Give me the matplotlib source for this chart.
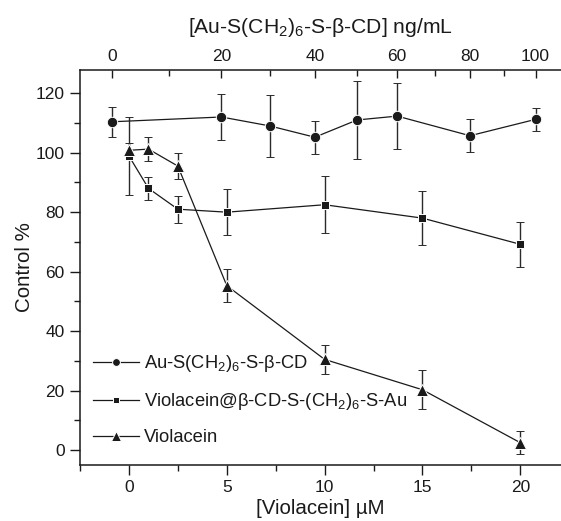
import numpy as np
import matplotlib
matplotlib.use("Agg")
import matplotlib.pyplot as plt
from matplotlib.ticker import MultipleLocator, FixedLocator

plt.rcParams['font.family'] = ['Liberation Sans', 'DejaVu Sans']
plt.rcParams['mathtext.fontset'] = 'custom'
plt.rcParams['mathtext.rm'] = 'Liberation Sans'
plt.rcParams['mathtext.it'] = 'Liberation Sans'

# ---- data ----
# Au-S(CH2)6-S-beta-CD (top axis, ng/mL)
au_x = [0, 20, 30, 40, 50, 60, 80, 100]
au_y = [110.4, 112.0, 109.0, 105.2, 111.0, 112.3, 105.7, 111.2]
au_err = [5.0, 7.6, 10.5, 5.5, 13.0, 11.2, 5.6, 3.8]

# Violacein@beta-CD-S-(CH2)6-S-Au (bottom axis, uM)
vc_x = [0, 1, 2.5, 5, 10, 15, 20]
vc_y = [98.9, 88.0, 81.0, 80.0, 82.5, 78.0, 69.2]
vc_err = [13.0, 3.8, 4.5, 7.7, 9.5, 9.0, 7.6]

# Violacein (bottom axis, uM)
v_x = [0, 1, 2.5, 5, 10, 15, 20]
v_y = [100.8, 101.2, 95.5, 55.3, 30.5, 20.3, 2.5]
v_err = [2.6, 4.0, 4.3, 5.5, 4.9, 6.5, 3.8]

# Top axis calibration: ng/mL tick values and their positions on the uM axis
top_ticks = [0, 10, 20, 30, 40, 50, 60, 70, 80, 90, 100]
top_pos = [-0.84, 2.05, 4.73, 7.20, 9.50, 11.66, 13.71, 15.64, 17.43, 19.17, 20.78]

labels = ["Au-S(CH$_\\mathregular{2}$)$_\\mathregular{6}$-S-β-CD",
          "Violacein@β-CD-S-(CH$_\\mathregular{2}$)$_\\mathregular{6}$-S-Au",
          "Violacein"]

tt = np.array(top_ticks, float)
tp = np.array(top_pos, float)


def _interp_ext(v, xs, ys):
    v = np.asarray(v, float)
    out = np.interp(v, xs, ys)
    s0 = (ys[1] - ys[0]) / (xs[1] - xs[0])
    s1 = (ys[-1] - ys[-2]) / (xs[-1] - xs[-2])
    out = np.where(v < xs[0], ys[0] + (v - xs[0]) * s0, out)
    out = np.where(v > xs[-1], ys[-1] + (v - xs[-1]) * s1, out)
    return out


def fwd(v):
    return _interp_ext(v, tt, tp)


def inv(u):
    return _interp_ext(u, tp, tt)


fig = plt.figure(figsize=(5.61, 5.21), dpi=100)
ax = fig.add_axes([80 / 561, 56 / 521, 1 - 80 / 561, 395 / 521])

xlim = (-2.5, 22.08)
ax.set_xlim(*xlim)
ax.set_ylim(-5, 127.8)

lc = '#1a1a1a'
ekw = dict(ecolor='#2a2a2a', elinewidth=1.0, capsize=3.0, capthick=1.0)

h2 = ax.errorbar(vc_x, vc_y, yerr=vc_err, color=lc, lw=0.9, marker='s', ms=5.5,
                 mfc=lc, mec='white', mew=0.7, **ekw)
h3 = ax.errorbar(v_x, v_y, yerr=v_err, color=lc, lw=0.9, marker='^', ms=9,
                 mfc=lc, mec='white', mew=0.7, **ekw)

ax2 = ax.twiny()
ax2.set_xscale('function', functions=(fwd, inv))
ax2.set_xlim(float(inv(xlim[0])), float(inv(xlim[1])))
h1 = ax2.errorbar(au_x, au_y, yerr=au_err, color=lc, lw=0.9, marker='o', ms=7.5,
                  mfc=lc, mec='white', mew=0.7, **ekw)

# ticks
ax.xaxis.set_major_locator(FixedLocator([0, 5, 10, 15, 20]))
ax.xaxis.set_minor_locator(MultipleLocator(2.5))
ax.yaxis.set_major_locator(MultipleLocator(20))
ax.yaxis.set_minor_locator(MultipleLocator(10))
ax.tick_params(axis='both', which='major', direction='out', length=7, width=1,
               labelsize=12.5, colors='#1a1a1a', pad=4)
ax.tick_params(axis='both', which='minor', direction='out', length=4.5, width=1,
               colors='#1a1a1a')
ax.tick_params(axis='x', top=False)
ax.tick_params(axis='y', right=False)

ax2.xaxis.set_major_locator(FixedLocator(top_ticks[::2]))
ax2.xaxis.set_minor_locator(FixedLocator(top_ticks[1::2]))
ax2.tick_params(axis='x', which='major', direction='in', length=6, width=1,
                labelsize=12.5, colors='#1a1a1a', pad=4)
ax2.tick_params(axis='x', which='minor', direction='in', length=4, width=1,
                colors='#1a1a1a')

for a in (ax, ax2):
    a.spines['right'].set_visible(False)
    for s in a.spines.values():
        s.set_linewidth(1.1)
        s.set_color('#1a1a1a')
ax.spines['top'].set_visible(False)
ax2.spines['bottom'].set_visible(False)
ax2.spines['left'].set_visible(False)

ax.set_xlabel("[Violacein] µM", fontsize=14.8, labelpad=3, color='#1a1a1a')
ax.set_ylabel("Control %", fontsize=14.8, labelpad=1, color='#1a1a1a')
ax2.set_xlabel("[Au-S(CH$_\\mathregular{2}$)$_\\mathregular{6}$-S-β-CD] ng/mL",
               fontsize=15.2, labelpad=12, color='#1a1a1a')

legend_handles = [h1[0], h2[0], h3[0]]
leg = ax.legend(legend_handles, labels, loc='upper left',
                bbox_to_anchor=(0.0, 0.315), frameon=False, fontsize=13.2,
                handlelength=2.5, handletextpad=0.3, labelspacing=0.92,
                markerscale=0.75, borderaxespad=0.3)
for t in leg.get_texts():
    t.set_color('#1a1a1a')

fig.savefig("out.png", dpi=100)
